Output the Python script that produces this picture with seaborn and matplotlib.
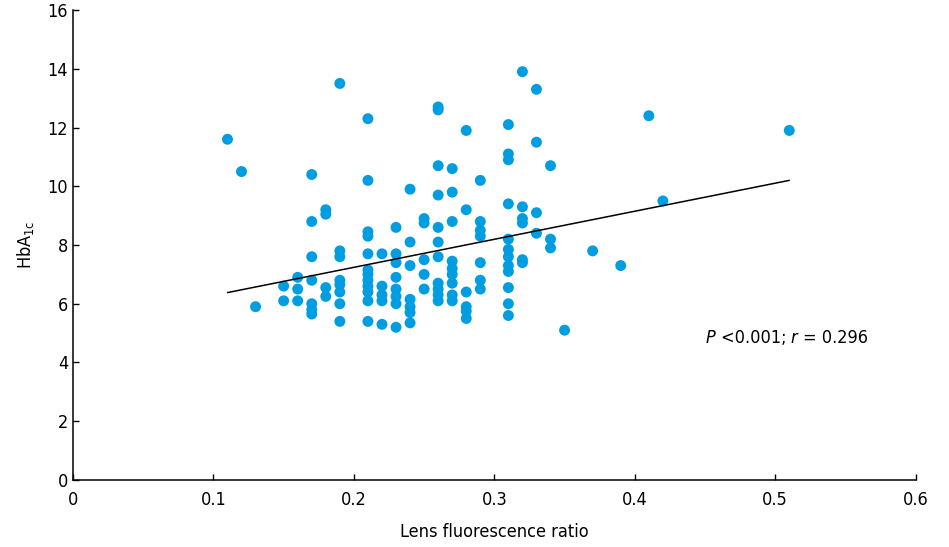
import matplotlib
matplotlib.use("Agg")
import matplotlib.pyplot as plt
import pandas as pd
import seaborn as sns

# values, one list per x column
columns = {
    0.11: [11.6],
    0.12: [10.5],
    0.13: [5.9],
    0.15: [6.6, 6.1],
    0.16: [6.9, 6.5, 6.1],
    0.17: [10.4, 8.8, 7.6, 6.8, 6.0, 5.8, 5.65],
    0.18: [9.2, 9.05, 6.55, 6.25],
    0.19: [13.5, 7.8, 7.6, 6.8, 6.65, 6.4, 6.0, 5.4],
    0.21: [12.3, 10.2, 8.45, 8.3, 7.7, 7.15, 7.0, 6.8, 6.6, 6.4, 6.1, 5.4],
    0.22: [7.7, 6.6, 6.3, 6.1, 5.3],
    0.23: [8.6, 7.7, 7.4, 6.9, 6.5, 6.25, 6.0, 5.2],
    0.24: [9.9, 8.1, 7.3, 6.15, 5.9, 5.7, 5.35],
    0.25: [8.9, 8.75, 7.5, 7.0, 6.5],
    0.26: [12.7, 12.6, 10.7, 9.7, 8.6, 8.1, 7.6, 6.7, 6.5, 6.3, 6.1],
    0.27: [10.6, 9.8, 8.8, 7.45, 7.2, 7.0, 6.7, 6.3, 6.1],
    0.28: [11.9, 9.2, 6.4, 5.9, 5.75, 5.5],
    0.29: [10.2, 8.8, 8.5, 8.3, 7.4, 6.8, 6.5],
    0.31: [12.1, 11.1, 10.9, 9.4, 8.2, 7.85, 7.6, 7.3, 7.1, 6.55, 6.0, 5.6],
    0.32: [13.9, 9.3, 8.9, 8.75, 7.5, 7.4],
    0.33: [13.3, 11.5, 9.1, 8.4],
    0.34: [10.7, 8.2, 7.9],
    0.35: [5.1],
    0.37: [7.8],
    0.39: [7.3],
    0.41: [12.4],
    0.42: [9.5],
    0.51: [11.9],
}
ratio = [x for x, ys in columns.items() for _ in ys]
hba1c = [y for ys in columns.values() for y in ys]

# regression line end points
fit_x = [0.11, 0.51]
fit_y = [6.38, 10.2]

df = pd.DataFrame({"ratio": ratio, "hba1c": hba1c})
fit = pd.DataFrame({"x": fit_x, "y": fit_y})

sns.set_style("ticks")
plt.rcParams["font.family"] = ["DejaVu Sans"]
plt.rcParams["font.stretch"] = "condensed"
plt.rcParams["text.color"] = "black"
plt.rcParams["axes.labelcolor"] = "black"

fig = plt.figure(figsize=(9.49, 5.47), dpi=100)
ax = fig.add_axes([0.0769, 0.1225, 0.888, 0.8592])

sns.scatterplot(data=df, x="ratio", y="hba1c", color="#009ee0", s=62,
                edgecolor="none", ax=ax, zorder=3)
sns.lineplot(data=fit, x="x", y="y", color="black", linewidth=1.1, ax=ax, zorder=4)

ax.set_xlim(0, 0.6)
ax.set_ylim(0, 16)
ax.set_xticks([0, 0.1, 0.2, 0.3, 0.4, 0.5, 0.6])
ax.set_xticklabels(["0", "0.1", "0.2", "0.3", "0.4", "0.5", "0.6"])
ax.set_yticks(range(0, 17, 2))
ax.tick_params(direction="in", length=4, width=1, labelsize=13, colors="black")
ax.tick_params(axis="x", pad=8)
sns.despine(ax=ax)
for sp in ["left", "bottom"]:
    ax.spines[sp].set_linewidth(1.1)
    ax.spines[sp].set_color("black")

ax.set_xlabel("Lens fluorescence ratio", fontsize=13, labelpad=10)
ax.set_ylabel("HbA$_{\\mathregular{1c}}$", fontsize=13, labelpad=8)

# annotation built from pieces so the italic letters keep the same font
parts = [("P", "italic", " "), ("<0.001; ", "normal", ""), ("r", "italic", " "), ("= 0.296", "normal", "")]
xpix = 0.4505
t = None
for txt, style, pad in parts:
    if t is None:
        t = ax.text(xpix, 4.85, txt + pad, fontsize=13, fontstyle=style, ha="left", va="center")
    else:
        t = ax.annotate(txt + pad, xycoords=t, xy=(1, 0.5), va="center", ha="left",
                        fontsize=13, fontstyle=style)

fig.savefig("out.png", dpi=100)
